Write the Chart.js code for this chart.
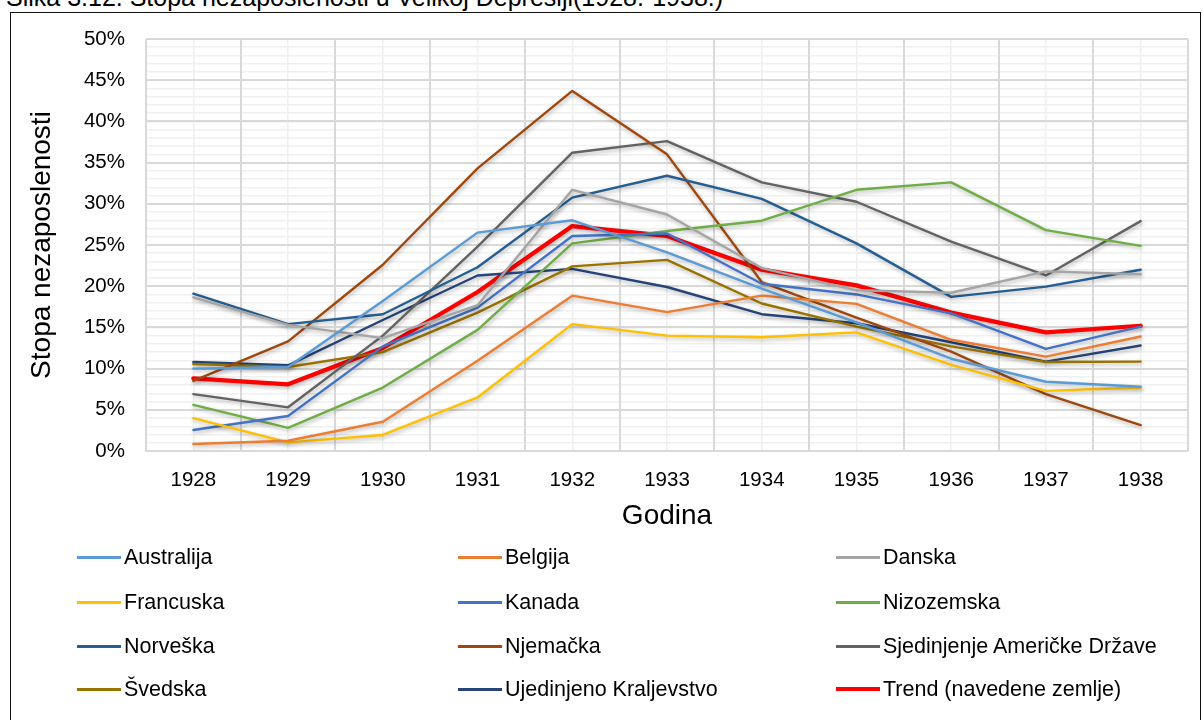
<!DOCTYPE html>
<html><head><meta charset="utf-8">
<script src="https://cdn.jsdelivr.net/npm/chart.js@4.4.0/dist/chart.umd.min.js"></script>
<style>
html,body{margin:0;padding:0;background:#fff;width:1203px;height:720px;overflow:hidden;font-family:"Liberation Sans",Arial,sans-serif;}
#title{position:absolute;left:6px;top:-17px;font-size:25px;white-space:nowrap;color:#000;}
#frame{position:absolute;left:10px;top:12px;width:1191px;height:730px;border:1.5px solid #111;box-sizing:border-box;}
#wrap{position:absolute;left:0;top:0;width:1203px;height:545px;}
#legend{position:absolute;left:0;top:0;width:1203px;height:720px;}
.li{position:absolute;height:26px;display:flex;align-items:center;font-size:21.5px;white-space:nowrap;color:#000;}
.sw{display:inline-block;width:44px;margin-right:3px;}
</style></head><body>
<div id="title">Slika 3.12. Stopa nezaposlenosti u Velikoj Depresiji(1928.-1938.)</div>
<div id="frame"></div>
<div id="wrap"><canvas id="c"></canvas></div>
<div id="legend"></div>
<script>
const years = ['1928','1929','1930','1931','1932','1933','1934','1935','1936','1937','1938'];
const australija   = [10.0, 10.2, 18.2, 26.5, 28.0, 24.1, 19.7, 15.6, 11.2, 8.4, 7.8];
const belgija      = [0.85, 1.25, 3.55, 10.95, 18.85, 16.85, 18.85, 17.85, 13.5, 11.45, 13.9];
const danska       = [18.65, 15.3, 13.7, 17.7, 31.7, 28.7, 22.2, 19.5, 19.2, 21.8, 21.45];
const francuska    = [4.0, 1.05, 1.95, 6.5, 15.4, 14.0, 13.8, 14.4, 10.45, 7.3, 7.7];
const kanada       = [2.55, 4.25, 12.7, 17.4, 26.1, 26.4, 20.3, 19.0, 16.7, 12.4, 15.1];
const nizozemska   = [5.6, 2.8, 7.7, 14.7, 25.2, 26.7, 27.95, 31.7, 32.6, 26.8, 24.9];
const norveska     = [19.1, 15.4, 16.6, 22.3, 30.75, 33.4, 30.6, 25.2, 18.7, 19.95, 22.0];
const njemacka     = [8.5, 13.3, 22.6, 34.3, 43.7, 36.0, 20.5, 16.2, 12.05, 6.9, 3.15];
const sad          = [6.9, 5.3, 14.0, 24.8, 36.2, 37.6, 32.6, 30.25, 25.4, 21.3, 27.9];
const svedska      = [10.55, 10.2, 12.0, 16.8, 22.4, 23.2, 17.9, 15.1, 12.7, 10.8, 10.85];
const uk           = [10.8, 10.4, 15.9, 21.3, 22.1, 19.9, 16.6, 15.5, 13.2, 10.85, 12.8];
const trend        = [8.8, 8.1, 12.5, 19.3, 27.3, 26.1, 22.0, 20.1, 16.8, 14.4, 15.2];
const seriesNames  = ['Australija','Belgija','Danska','Francuska','Kanada','Nizozemska','Norveška','Njemačka','Sjedinjenje Američke Države','Švedska','Ujedinjeno Kraljevstvo','Trend (navedene zemlje)'];
const seriesData   = [australija, belgija, danska, francuska, kanada, nizozemska, norveska, njemacka, sad, svedska, uk, trend];
const seriesColors = ['#5B9BD5','#ED7D31','#A5A5A5','#FFC000','#4472C4','#70AD47','#255E91','#9E480E','#636363','#997300','#264478','#FF0000'];
const yTicks = [0,5,10,15,20,25,30,35,40,45,50];

const FONT = '"Liberation Sans", Arial, sans-serif';
Chart.defaults.font.family = FONT;
Chart.defaults.color = '#000';

const shadow = {
  id: 'shadow',
  beforeDatasetDraw(chart){ const c = chart.ctx; c.save(); c.shadowColor='rgba(0,0,0,0.30)'; c.shadowBlur=4; c.shadowOffsetX=1; c.shadowOffsetY=2; },
  afterDatasetDraw(chart){ chart.ctx.restore(); }
};

const datasets = seriesNames.map((n,i)=>({
  label: n,
  data: seriesData[i],
  borderColor: seriesColors[i],
  backgroundColor: seriesColors[i],
  borderWidth: i === 11 ? 4.25 : 2.4,
  pointRadius: 0,
  pointHoverRadius: 0,
  tension: 0,
  fill: false,
  borderJoinStyle: 'round',
  borderCapStyle: 'round'
}));

const chart = new Chart(document.getElementById('c'), {
  type: 'line',
  data: { labels: years, datasets },
  plugins: [shadow],
  options: {
    responsive: true,
    maintainAspectRatio: false,
    animation: false,
    events: [],
    layout: { padding: { left: 23, top: 39, right: 15, bottom: 0 } },
    plugins: { legend: { display: false }, tooltip: { enabled: false } },
    scales: {
      xMinor: {
        type: 'category', position: 'bottom', offset: true, z: -2,
        grid: { offset: false, color: '#F0F0F0', lineWidth: 1.5, drawTicks: false },
        ticks: { display: false }, border: { display: false },
        afterFit(s){ s.height = 0; }
      },
      yMinor: {
        type: 'linear', position: 'left', min: 0, max: 50, z: -2,
        ticks: { display: false, stepSize: 1 },
        grid: { color: '#F0F0F0', lineWidth: 1.5, drawTicks: false },
        border: { display: false },
        afterFit(s){ s.width = 0; }
      },
      x: {
        type: 'category', position: 'bottom', offset: true, z: -1,
        grid: { offset: true, color: '#D9D9D9', lineWidth: 2, drawTicks: false },
        border: { color: '#D9D9D9', width: 2 },
        ticks: { font: { size: 20.5 }, color: '#000', padding: 17, maxRotation: 0 },
        title: { display: true, text: 'Godina', font: { size: 28 }, color: '#000', padding: { top: 0, bottom: 12 } },
        afterFit(s){ s.height = 94; }
      },
      y: {
        type: 'linear', position: 'left', min: 0, max: 50, z: -1,
        afterBuildTicks(s){ s.ticks = yTicks.map(v=>({value:v})); },
        ticks: { stepSize: 5, callback: v => v + '%', font: { size: 20.5 }, color: '#000', padding: 21 },
        grid: { color: '#D9D9D9', lineWidth: 2, drawTicks: false },
        border: { display: false },
        title: { display: true, text: 'Stopa nezaposlenosti', font: { size: 28 }, color: '#000', padding: { top: 2, bottom: 0 } },
        afterFit(s){ s.width = 123; }
      }
    }
  }
});

// HTML legend built from the chart's datasets
const legend = document.getElementById('legend');
const colX = [77, 458, 836];
const rowY = [557, 602, 646, 689];
chart.data.datasets.forEach((ds, i) => {
  const item = document.createElement('div');
  item.className = 'li';
  item.style.left = colX[i % 3] + 'px';
  item.style.top = (rowY[Math.floor(i / 3)] - 13) + 'px';
  const sw = document.createElement('span');
  sw.className = 'sw';
  sw.style.background = ds.borderColor;
  sw.style.height = (i === 11 ? 4 : 3) + 'px';
  item.appendChild(sw);
  item.appendChild(document.createTextNode(ds.label));
  legend.appendChild(item);
});
</script>
</body></html>
